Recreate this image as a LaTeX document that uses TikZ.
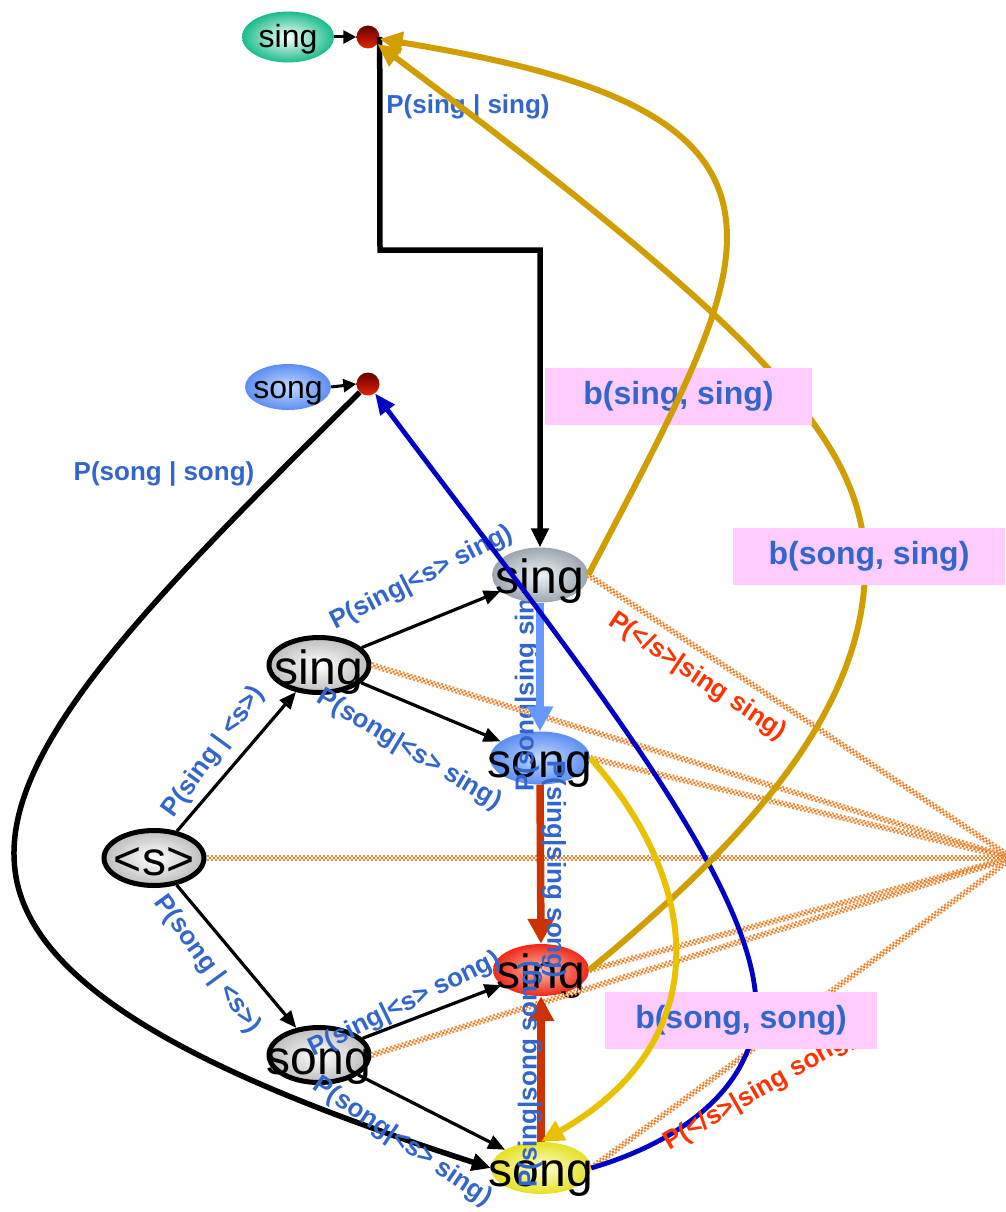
\documentclass[tikz,border=0pt]{standalone}
\usepackage{fontspec}
\setmainfont{Liberation Sans}
\usetikzlibrary{shapes.geometric,arrows.meta}
\definecolor{lblue}{HTML}{3366CC}
\definecolor{lred}{HTML}{FF3300}
\definecolor{pinkbox}{HTML}{FFCCFF}
\definecolor{goldA}{HTML}{D09E00}
\definecolor{yelA}{HTML}{E8C200}
\definecolor{navyA}{HTML}{0000C4}
\definecolor{checkor}{HTML}{F07818}
\definecolor{redarr}{HTML}{CC3300}
\definecolor{bluearr}{HTML}{6699FF}
\definecolor{grayin}{HTML}{EEF2F5}
\definecolor{grayout}{HTML}{9CA6B0}
\definecolor{whout}{HTML}{BDBDBD}
\definecolor{bluein}{HTML}{C4D9FF}
\definecolor{blueout}{HTML}{5C8EF2}
\definecolor{redin}{HTML}{FFB8A8}
\definecolor{redout}{HTML}{F02818}
\definecolor{yelin}{HTML}{FFFFD8}
\definecolor{yelout}{HTML}{E6E020}
\definecolor{greenout}{HTML}{1ABC8C}
\begin{document}
\begin{tikzpicture}[x=1pt,y=-1pt,
  bignode/.style={ellipse, minimum width=100pt, minimum height=55pt, inner sep=0pt},
  whitenode/.style={bignode, draw=black, line width=5pt, inner color=white, outer color=whout},
  graynode/.style={bignode, minimum width=96pt, inner color=grayin, outer color=grayout},
  bluenode/.style={bignode, minimum height=53pt, inner color=bluein, outer color=blueout},
  rednode/.style={bignode, minimum width=96pt, minimum height=52pt, inner color=redin, outer color=redout},
  yelnode/.style={bignode, minimum height=52pt, inner color=yelin, outer color=yelout},
  smgreen/.style={ellipse, minimum width=92pt, minimum height=51pt, inner sep=0pt, inner color=white, outer color=greenout},
  smblue/.style={ellipse, minimum width=86pt, minimum height=46pt, inner sep=0pt, inner color=bluein, outer color=blueout},
  dotnode/.style={circle, minimum size=23pt, inner sep=0pt, top color=red!40!black, bottom color=red!70!orange!90!black},
  bigtxt/.style={font=\fontsize{48}{50}\selectfont, inner sep=0pt, anchor=base},
  smtxt/.style={font=\fontsize{32}{34}\selectfont, inner sep=0pt, anchor=base},
  elab/.style={font=\fontsize{26}{28}\selectfont\bfseries, text=lblue, inner sep=0pt},
  rlab/.style={font=\fontsize{26}{28}\selectfont\bfseries, text=lred, inner sep=0pt},
  boxlab/.style={font=\fontsize{32}{34}\selectfont\bfseries, text=lblue, fill=pinkbox, inner sep=0pt, minimum height=57pt},
  thinarr/.style={draw=black, line width=3.2pt, -{Triangle[length=17pt,width=14pt]}},
  thickarr/.style={draw=black, line width=5.5pt, -{Triangle[length=19pt,width=17pt]}},
  colarr/.style={line width=7.5pt, -{Triangle[length=25pt,width=25pt]}},
  curvearr/.style={line width=6pt, -{Triangle[length=23pt,width=21pt]}},
  checker/.style={draw=checkor!85!white, line width=6pt, dash pattern=on 2pt off 2pt,
    postaction={draw=white, line width=2pt, dash pattern=on 2pt off 2pt},
    postaction={draw=checkor, line width=2pt, dash pattern=on 2pt off 2pt, dash phase=2pt}}
]
\useasboundingbox (0,0) rectangle (1005,1212);

% --- top small nodes
\node[smgreen] (gsing) at (288,37) {};
\node[smtxt] (gsingt) at (288,48) {sing};
\node[dotnode] (d1) at (368,37) {};
\node[smblue] (bsong) at (288,387) {};
\node[smtxt] (bsongt) at (288,398) {song};
\node[dotnode] (d2) at (368,384) {};
\draw[draw=black, line width=3pt, -{Triangle[length=13pt,width=13pt]}] (gsing.east) -- (d1.west);
\draw[draw=black, line width=3pt, -{Triangle[length=13pt,width=13pt]}] (bsong.east) -- (d2.west);

% --- main nodes
\node[whitenode] (lt) at (154,858) {};
\node[bigtxt] (ltt) at (154,875) {<s>};
\node[whitenode] (s1) at (319,665) {};
\node[bigtxt] (s1t) at (319,684) {sing};
\node[whitenode] (so1) at (319,1055) {};
\node[bigtxt] (so1t) at (319,1074) {song};
\node[bluenode] (sblue) at (540,758) {};
\node[bigtxt] (sbluet) at (540,777) {song};
\node[elab, rotate=90, anchor=west] (v1) at (527,792) {P(song|sing sing)};
\node[graynode] (tsing) at (540,575) {};
\node[bigtxt] (tsingt) at (540,593) {sing};
\node[rednode] (rsing) at (541,970) {};
\node[bigtxt] (rsingt) at (541,988) {sing};
\node[yelnode] (ysong) at (541,1168) {};
\node[bigtxt] (ysongt) at (541,1186) {song};

% --- thin arrows
\draw[thinarr] (lt) -- (s1);
\draw[thinarr] (lt) -- (so1);
\draw[thinarr] (s1) -- (tsing);
\draw[thinarr] (s1) -- (sblue);
\draw[thinarr] (so1) -- (rsing);
\draw[thinarr] (so1) -- (ysong);

% --- checker lines
\coordinate (R) at (1012,858);
\draw[checker] (tsing.east) -- (R);
\draw[checker] (s1.east) -- (R);
\draw[checker] (sblue.east) -- (R);
\draw[checker] (lt.east) -- (R);
\draw[checker] (rsing.east) -- (R);
\draw[checker] (so1.east) -- (R);
\draw[checker] (ysong.east) -- (R);

% --- thick black connectors
\coordinate (bend) at (380,250);
\draw[thickarr] (d1.east) -- (bend) -| (tsing.north);
\draw[thickarr] (d2.south west) .. controls (150,600) and (0,750) .. (15,870)
   .. controls (30,1000) and (250,1090) .. (ysong.west);

% --- coloured vertical arrows
\draw[colarr, draw=bluearr] (tsing.south) -- (sblue.north);
\draw[colarr, draw=redarr] (sblue.south) -- (rsing.north);
\draw[colarr, draw=redarr] (ysong.north) -- (rsing.south);

% --- labels
\node[elab] (lss) at (468,107) {P(sing | sing)};
\node[elab] (lgg) at (164,474) {P(song | song)};
\node[elab, rotate=54] (l1) at (214,752) {P(sing | <s>)};
\node[elab, rotate=-54] (l2) at (207,965) {P(song | <s>)};
\node[elab, rotate=27] (l3) at (422,578) {P(sing|<s> sing)};
\node[elab, rotate=-31] (l4) at (409,750) {P(song|<s> sing)};
\node[elab, rotate=26] (l5) at (405,1005) {P(sing|<s> song)};
\node[elab, rotate=-34] (l6) at (402,1142) {P(song|<s> sing)};
\node[elab, rotate=-90, anchor=west] (v2) at (554,760) {P(sing|sing song)};
\node[elab, rotate=90, anchor=west] (v3) at (530,1188) {P(sing|song song)};
\node[rlab, rotate=-34] (r1) at (697,677) {P(</s>|sing sing)};

% --- blue and gold 2 curves
\draw[curvearr, line width=4.8pt, draw=navyA, -{Triangle[length=21pt,width=17pt]}] (ysong.east)
   .. controls (700,1136) and (765,1070) .. (755,990)
   .. controls (740,860) and (560,640) .. (d2);
\draw[curvearr, draw=goldA] (rsing.east) .. controls (760,830) and (868,700) .. (865,560)
   .. controls (862,440) and (760,330) .. (d1);
\node[rlab, rotate=30, anchor=south west] (r2) at (672,1156) {P(</s>|sing song)};

% --- pink boxes
\node[boxlab, minimum width=272pt] (bss) at (869,556) {b(song, sing)};
\node[boxlab, minimum width=272pt] (bgg) at (741,1020) {b(song, song)};
\node[boxlab, minimum width=267pt] (bii) at (678.5,396.5) {b(sing, sing)};

% --- gold 1 and yellow
\draw[curvearr, draw=goldA] (tsing.east) .. controls (680,400) and (735,300) .. (726,220)
   .. controls (715,120) and (600,75) .. (d1);
\draw[curvearr, draw=yelA] (sblue.east) .. controls (700,880) and (720,1040) .. (ysong.north);
\end{tikzpicture}
\end{document}
